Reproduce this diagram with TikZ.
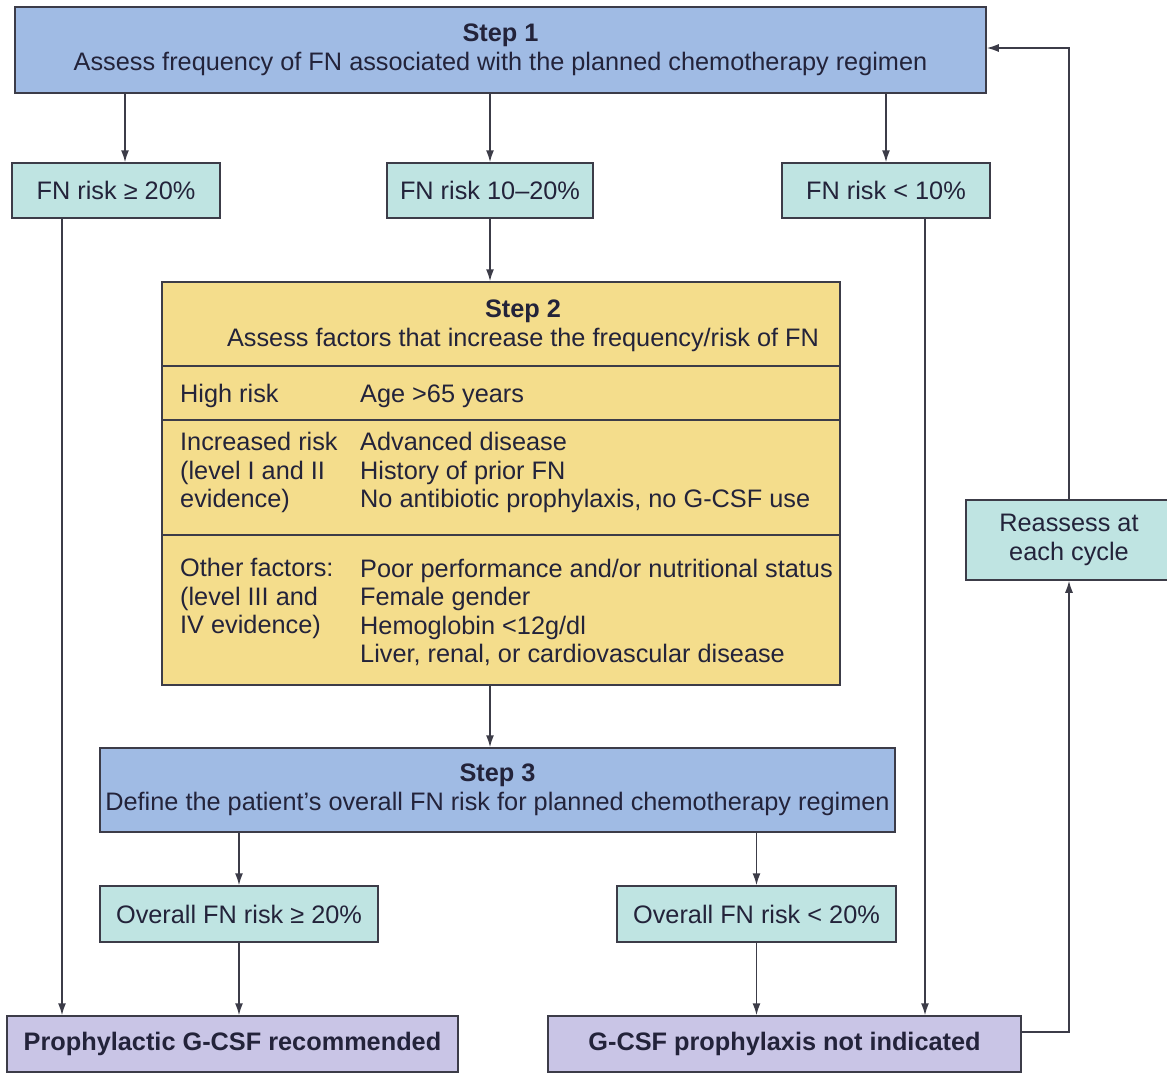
\documentclass[tikz,border=0pt]{standalone}
\usepackage{fontspec}
\setmainfont{Liberation Sans}
\usepackage{xcolor}
\usetikzlibrary{arrows.meta}
\definecolor{stepblue}{HTML}{A0BBE4}
\definecolor{riskteal}{HTML}{BFE4E2}
\definecolor{factyellow}{HTML}{F4DD8C}
\definecolor{endlilac}{HTML}{C9C5E6}
\definecolor{edgegray}{HTML}{3C3C48}
\definecolor{inkcol}{HTML}{23233A}
\tikzset{
  box/.style = {rectangle, draw=edgegray, line width=1.5pt, inner sep=0pt,
                text=inkcol, align=center, font={\fontsize{25.3pt}{28.5pt}\selectfont}},
  stepbox/.style = {box, fill=stepblue},
  riskbox/.style = {box, fill=riskteal},
  factbox/.style = {box, fill=factyellow},
  endbox/.style = {box, fill=endlilac, font={\fontsize{25.3pt}{28.5pt}\selectfont\bfseries}},
  facttext/.style = {inner sep=0pt, text=inkcol, align=left, anchor=west,
                     font={\fontsize{25.3pt}{28.5pt}\selectfont}},
  arr/.style = {draw=edgegray, line width=1.5pt, -{Latex[length=12pt,width=8pt]}},
  rule/.style = {draw=edgegray, line width=1.5pt}
}
\begin{document}
\begin{tikzpicture}[x=1pt, y=-1pt]
  \useasboundingbox (0,0) rectangle (1167,1072);

  % step 1 and the three risk classes
  \node[stepbox, minimum width=971pt, minimum height=86pt] (s1) at (500.5,50)
    {\textbf{Step 1}\\Assess frequency of FN associated with the planned chemotherapy regimen};
  \node[riskbox, minimum width=208pt, minimum height=55pt] (r1) at (116,190.5) {FN risk ≥ 20\%};
  \node[riskbox, minimum width=206pt, minimum height=55pt] (r2) at (490,190.5) {FN risk 10–20\%};
  \node[riskbox, minimum width=208pt, minimum height=55pt] (r3) at (886,190.5) {FN risk < 10\%};

  % step 2 with its table of factors
  \node[factbox, minimum width=678pt, minimum height=403pt] (s2) at (501,483.5) {};
  \node[inner sep=0pt, text=inkcol, align=center, font={\fontsize{25.3pt}{28.5pt}\selectfont}] (s2h) at (523,326)
    {\textbf{Step 2}\\Assess factors that increase the frequency/risk of FN};
  \coordinate (d1) at (0,366); \coordinate (d2) at (0,420); \coordinate (d3) at (0,535);
  \foreach \d in {d1,d2,d3}
    \draw[rule] (s2.west |- \d) -- (s2.east |- \d);
  \node[facttext] (hl) at (180,396) {High risk};
  \node[facttext] (ht) at (360,396) {Age >65 years};
  \node[facttext] (il) at (180,472.5) {Increased risk\\(level I and II\\evidence)};
  \node[facttext] (it) at (360,472.5) {Advanced disease\\History of prior FN\\No antibiotic prophylaxis, no G-CSF use};
  \node[facttext] (ol) at (180,598.5) {Other factors:\\(level III and\\IV evidence)};
  \node[facttext] (ot) at (360,612.5) {Poor performance and/or nutritional status\\Female gender\\Hemoglobin <12g/dl\\Liver, renal, or cardiovascular disease};

  % step 3 and the outcomes
  \node[stepbox, minimum width=795pt, minimum height=84pt] (s3) at (497.5,790)
    {\textbf{Step 3}\\Define the patient's overall FN risk for planned chemotherapy regimen};
  \node[riskbox, minimum width=278pt, minimum height=56pt] (o1) at (239,914) {Overall FN risk ≥ 20\%};
  \node[riskbox, minimum width=279pt, minimum height=56pt] (o2) at (756.5,914) {Overall FN risk < 20\%};
  \node[endbox, minimum width=451pt, minimum height=56pt] (rec) at (232.5,1044) {Prophylactic G-CSF recommended};
  \node[endbox, minimum width=473pt, minimum height=56pt] (nind) at (784.5,1044) {G-CSF prophylaxis not indicated};
  \node[riskbox, minimum width=206pt, minimum height=80pt] (re) at (1069,540) {Reassess at\\each cycle};

  % connectors
  \coordinate (c1) at (125,0); \coordinate (c2) at (62,0); \coordinate (c3) at (925,0);
  \coordinate (top) at (0,48); \coordinate (low) at (0,1032);
  \draw[arr] (s1.south -| c1) -- (r1.north -| c1);
  \draw[arr] (s1.south -| r2) -- (r2.north);
  \draw[arr] (s1.south -| r3) -- (r3.north);
  \draw[arr] (r2.south) -- (s2.north -| r2);
  \draw[arr] (s2.south -| r2) -- (s3.north -| r2);
  \draw[arr] (s3.south -| o1) -- (o1.north);
  \draw[arr] (s3.south -| o2) -- (o2.north);
  \draw[arr] (o1.south) -- (rec.north -| o1);
  \draw[arr] (o2.south) -- (nind.north -| o2);
  \draw[arr] (r1.south -| c2) -- (rec.north -| c2);
  \draw[arr] (r3.south -| c3) -- (nind.north -| c3);
  \draw[arr] (nind.east |- low) -| (re.south);
  \draw[arr] (re.north) |- (s1.east |- top);
\end{tikzpicture}
\end{document}
